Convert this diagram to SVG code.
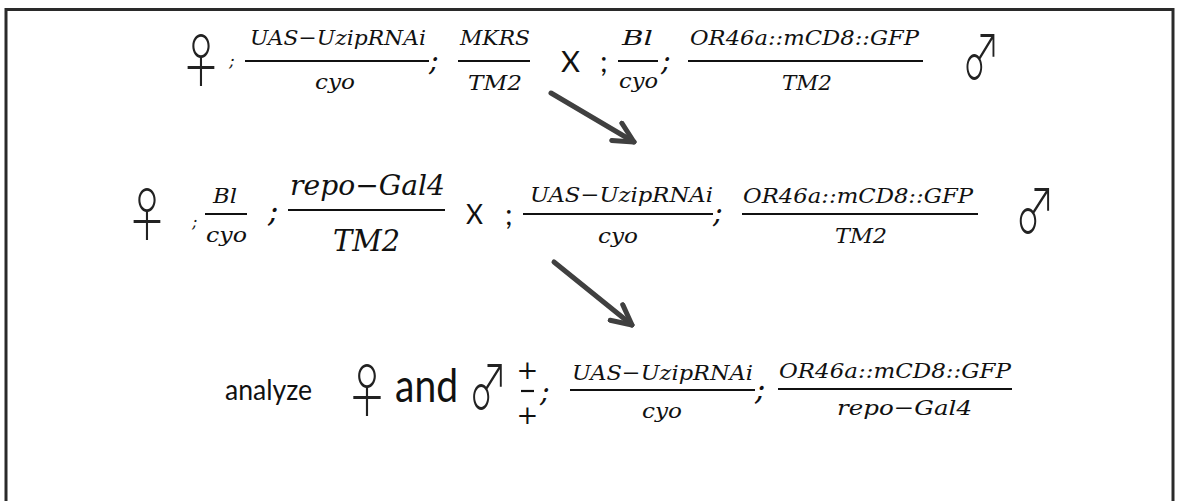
<svg xmlns="http://www.w3.org/2000/svg" width="1178" height="501" viewBox="0 0 1178 501">
  <style>
    .m { font-family: "DejaVu Serif", "Liberation Serif", serif; font-style: italic; fill: #111; }
    .s { font-family: Lato, "Liberation Sans", sans-serif; fill: #111; }
    .sym { font-family: "Noto Sans CJK JP", "DejaVu Sans", sans-serif; font-weight: 300; fill: #222; }
    .plus { font-family: "DejaVu Serif", serif; fill: #111; }
    .bar { stroke: #111; stroke-width: 2.2; }
    .arrow { stroke: #404040; stroke-width: 5; fill: none; stroke-linecap: round; }
  </style>
  <defs>
    <marker id="chev" viewBox="0 0 10 10" refX="9" refY="5" markerWidth="5" markerHeight="5" orient="auto" markerUnits="strokeWidth">
      <polyline points="1,1 9,5 1,9" fill="none" stroke="#404040" stroke-width="2" stroke-linecap="round" stroke-linejoin="round"/>
    </marker>
  </defs>

  <rect x="0" y="0" width="1178" height="501" fill="#fff"/>
  <!-- frame -->
  <rect x="6" y="9.5" width="1167" height="560" fill="none" stroke="#2a2a2a" stroke-width="3"/>

  <!-- first cross -->
  <g id="cross1-female">
    <text class="sym" x="201" y="82" font-size="58" text-anchor="middle" textLength="42" lengthAdjust="spacingAndGlyphs">♀</text>
    <text class="m" x="229" y="66" font-size="17">;</text>
    <text class="m" x="250" y="45" font-size="21" textLength="176" lengthAdjust="spacingAndGlyphs">UAS−UzipRNAi</text>
    <line class="bar" x1="245" y1="61" x2="429" y2="61"/>
    <text class="m" x="315" y="89" font-size="21" textLength="40" lengthAdjust="spacingAndGlyphs">cyo</text>
    <text class="m" x="429" y="70" font-size="29">;</text>
    <text class="m" x="460" y="45" font-size="21" textLength="70" lengthAdjust="spacingAndGlyphs">MKRS</text>
    <line class="bar" x1="458" y1="61" x2="530" y2="61"/>
    <text class="m" x="468" y="90" font-size="21" textLength="54" lengthAdjust="spacingAndGlyphs">TM2</text>
  </g>
  <text id="cross1-x" class="s" x="561" y="72" font-size="29" textLength="19" lengthAdjust="spacingAndGlyphs">X</text>
  <g id="cross1-male">
    <text class="s" x="600" y="72" font-size="29">;</text>
    <text class="m" x="622" y="45" font-size="21" textLength="31" lengthAdjust="spacingAndGlyphs">Bl</text>
    <line class="bar" x1="618" y1="61" x2="658" y2="61"/>
    <text class="m" x="619" y="88" font-size="21" textLength="39" lengthAdjust="spacingAndGlyphs">cyo</text>
    <text class="m" x="661" y="70" font-size="29">;</text>
    <text class="m" x="690" y="45" font-size="21" textLength="229" lengthAdjust="spacingAndGlyphs">OR46a::mCD8::GFP</text>
    <line class="bar" x1="688" y1="61" x2="923" y2="61"/>
    <text class="m" x="782" y="90" font-size="21" textLength="50" lengthAdjust="spacingAndGlyphs">TM2</text>
    <text class="sym" x="981" y="80" font-size="62" text-anchor="middle" textLength="38" lengthAdjust="spacingAndGlyphs">♂</text>
  </g>

  <!-- second cross -->
  <g id="cross2-female">
    <text class="sym" x="147" y="236" font-size="58" text-anchor="middle" textLength="42" lengthAdjust="spacingAndGlyphs">♀</text>
    <text class="m" x="192" y="227" font-size="16">;</text>
    <text class="m" x="213" y="203" font-size="21" textLength="24" lengthAdjust="spacingAndGlyphs">Bl</text>
    <line class="bar" x1="205" y1="214" x2="247" y2="214"/>
    <text class="m" x="206" y="242" font-size="21" textLength="41" lengthAdjust="spacingAndGlyphs">cyo</text>
    <text class="m" x="268" y="222" font-size="31">;</text>
    <text class="m" x="290" y="195" font-size="28" textLength="155" lengthAdjust="spacingAndGlyphs">repo−Gal4</text>
    <line class="bar" x1="288" y1="210" x2="445" y2="210"/>
    <text class="m" x="333" y="251" font-size="30" textLength="67" lengthAdjust="spacingAndGlyphs">TM2</text>
  </g>
  <text id="cross2-x" class="s" x="466" y="224" font-size="27" textLength="17" lengthAdjust="spacingAndGlyphs">X</text>
  <g id="cross2-male">
    <text class="s" x="505" y="225" font-size="29">;</text>
    <text class="m" x="530" y="202" font-size="21" textLength="183" lengthAdjust="spacingAndGlyphs">UAS−UzipRNAi</text>
    <line class="bar" x1="523" y1="214" x2="713" y2="214"/>
    <text class="m" x="598" y="243" font-size="21" textLength="40" lengthAdjust="spacingAndGlyphs">cyo</text>
    <text class="m" x="713" y="222" font-size="29">;</text>
    <text class="m" x="743" y="203" font-size="21" textLength="230" lengthAdjust="spacingAndGlyphs">OR46a::mCD8::GFP</text>
    <line class="bar" x1="742" y1="214" x2="978" y2="214"/>
    <text class="m" x="835" y="243" font-size="21" textLength="52" lengthAdjust="spacingAndGlyphs">TM2</text>
    <text class="sym" x="1035" y="234" font-size="62" text-anchor="middle" textLength="40" lengthAdjust="spacingAndGlyphs">♂</text>
  </g>

  <!-- progeny -->
  <g id="progeny">
    <text class="s" x="225" y="400" font-size="28" textLength="87" lengthAdjust="spacingAndGlyphs">analyze</text>
    <text class="sym" x="367" y="412" font-size="58" text-anchor="middle" textLength="43" lengthAdjust="spacingAndGlyphs">♀</text>
    <text class="s" x="395" y="402" font-size="47" textLength="63" lengthAdjust="spacingAndGlyphs">and</text>
    <text class="sym" x="488" y="410" font-size="62" text-anchor="middle" textLength="39" lengthAdjust="spacingAndGlyphs">♂</text>
    <text class="plus" x="527.5" y="379" font-size="26" text-anchor="middle">+</text>
    <line class="bar" x1="521" y1="391" x2="534" y2="391"/>
    <text class="plus" x="527.5" y="424" font-size="26" text-anchor="middle">+</text>
    <text class="m" x="540" y="401" font-size="29">;</text>
    <text class="m" x="572" y="380" font-size="21" textLength="181" lengthAdjust="spacingAndGlyphs">UAS−UzipRNAi</text>
    <line class="bar" x1="570" y1="390" x2="755" y2="390"/>
    <text class="m" x="642" y="418" font-size="21" textLength="40" lengthAdjust="spacingAndGlyphs">cyo</text>
    <text class="m" x="755" y="400" font-size="31">;</text>
    <text class="m" x="779" y="378" font-size="21" textLength="232" lengthAdjust="spacingAndGlyphs">OR46a::mCD8::GFP</text>
    <line class="bar" x1="778" y1="389" x2="1012" y2="389"/>
    <text class="m" x="837" y="415" font-size="21" textLength="135" lengthAdjust="spacingAndGlyphs">repo−Gal4</text>
  </g>

  <!-- connectors -->
  <g id="connectors">
    <line class="arrow" x1="551" y1="93" x2="634" y2="142" marker-end="url(#chev)"/>
    <line class="arrow" x1="554" y1="262" x2="632" y2="325" marker-end="url(#chev)"/>
  </g>
</svg>
